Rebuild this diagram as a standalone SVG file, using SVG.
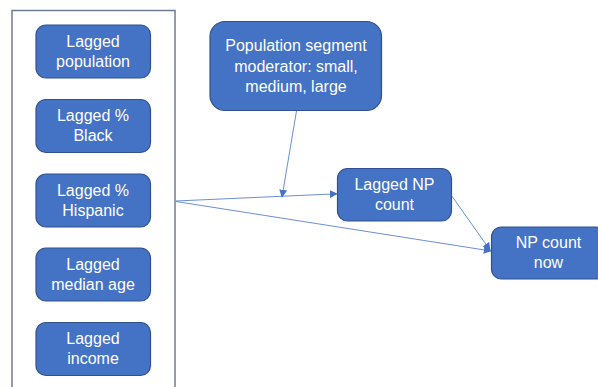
<svg xmlns="http://www.w3.org/2000/svg" width="598" height="387" viewBox="0 0 598 387">
<defs>
<style>
.box{fill:#4472C4;stroke:#2F528F;stroke-width:1.2}
.t{fill:#ffffff;font-family:"Liberation Sans",Arial,sans-serif;font-size:16px;text-anchor:middle}
.c{fill:none;stroke:#4472C4;stroke-width:0.8}
</style>
<marker id="ah" viewBox="0 0 10 10" refX="9" refY="5" markerWidth="8" markerHeight="8" markerUnits="userSpaceOnUse" orient="auto">
<path d="M0,0 L10,5 L0,10 Z" fill="#4472C4"/>
</marker>
</defs>
<rect id="container" x="12" y="10.5" width="163" height="390" fill="#ffffff" stroke="#6d7b93" stroke-width="1.5"/>
<g id="n1"><rect class="box" x="36" y="25" width="114.5" height="53" rx="10"/><text class="t" x="93" y="46.5">Lagged</text><text class="t" x="93" y="66.5">population</text></g>
<g id="n2"><rect class="box" x="36" y="99.5" width="114.5" height="53" rx="10"/><text class="t" x="93" y="121">Lagged %</text><text class="t" x="93" y="141">Black</text></g>
<g id="n3"><rect class="box" x="36" y="174" width="114.5" height="53" rx="10"/><text class="t" x="93" y="195.5">Lagged %</text><text class="t" x="93" y="215.5">Hispanic</text></g>
<g id="n4"><rect class="box" x="36" y="248" width="114.5" height="53" rx="10"/><text class="t" x="93" y="269.5">Lagged</text><text class="t" x="93" y="289.5">median age</text></g>
<g id="n5"><rect class="box" x="36" y="322.5" width="114.5" height="53" rx="10"/><text class="t" x="93" y="344">Lagged</text><text class="t" x="93" y="364">income</text></g>
<g id="moderator"><rect class="box" x="210" y="21.5" width="171.5" height="89" rx="15"/><text class="t" x="296" y="51">Population segment</text><text class="t" x="296" y="71.5">moderator: small,</text><text class="t" x="296" y="91.5">medium, large</text></g>
<g id="laggednp"><rect class="box" x="337.5" y="168.5" width="114" height="52.5" rx="10"/><text class="t" x="394.5" y="189.5">Lagged NP</text><text class="t" x="394.5" y="209.5">count</text></g>
<g id="npnow"><rect class="box" x="491.5" y="227" width="114" height="52" rx="10"/><text class="t" x="548.5" y="248">NP count</text><text class="t" x="548.5" y="268">now</text></g>
<g id="connectors">
<line class="c" x1="176" y1="201" x2="337" y2="193.8" marker-end="url(#ah)"/>
<line class="c" x1="176" y1="201.5" x2="491" y2="251" marker-end="url(#ah)"/>
<line class="c" x1="296.5" y1="111" x2="282" y2="197" marker-end="url(#ah)"/>
<line class="c" x1="451.5" y1="195.5" x2="490" y2="250" marker-end="url(#ah)"/>
</g>
</svg>
